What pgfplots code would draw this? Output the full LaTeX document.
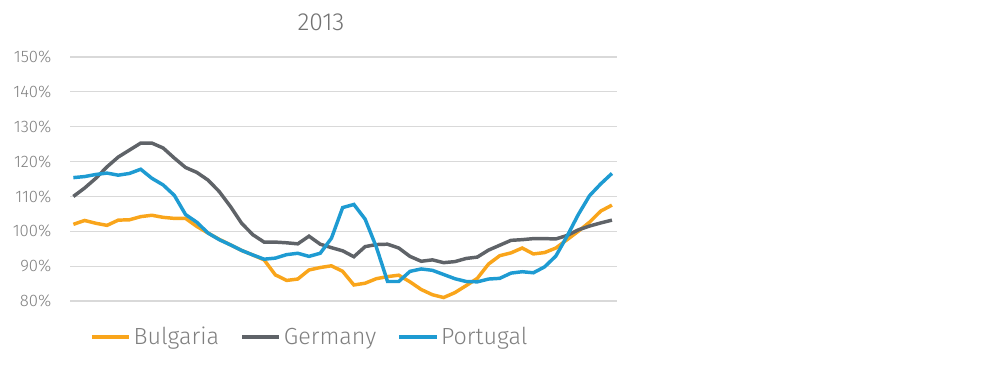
\documentclass[border=0pt]{standalone}
\usepackage{pgfplots}
\pgfplotsset{compat=1.18}
\usepackage{pgfplotstable}
\usepackage{fontspec}
\setmainfont{Fira Sans Light}
\definecolor{bgorange}{RGB}{249,165,27}
\definecolor{degray}{RGB}{95,99,104}
\definecolor{ptblue}{RGB}{30,155,210}
\definecolor{txtgray}{RGB}{127,127,127}
\definecolor{gridgray}{RGB}{217,217,217}
\pgfplotstableread{
i bg de pt
0 102.0 110.0 115.4
1 103.1 112.4 115.7
2 102.3 115.2 116.3
3 101.7 118.5 116.7
4 103.2 121.3 116.1
5 103.3 123.3 116.6
6 104.2 125.3 117.8
7 104.6 125.3 115.2
8 104.0 123.9 113.3
9 103.7 121.0 110.3
10 103.7 118.3 104.8
11 101.4 116.9 102.6
12 99.5 114.7 99.5
13 97.7 111.4 97.6
14 96.1 107.1 96.1
15 94.5 102.3 94.5
16 93.2 99.0 93.2
17 91.8 96.9 92.0
18 87.5 96.9 92.3
19 85.9 96.7 93.3
20 86.3 96.4 93.7
21 88.9 98.6 92.8
22 89.6 96.3 93.7
23 90.1 95.3 98.0
24 88.5 94.4 106.8
25 84.6 92.7 107.7
26 85.1 95.6 103.5
27 86.4 96.2 95.5
28 87.0 96.3 85.6
29 87.4 95.2 85.6
30 85.5 92.8 88.5
31 83.3 91.4 89.2
32 81.8 91.8 88.8
33 81.0 91.0 87.6
34 82.4 91.3 86.4
35 84.4 92.2 85.6
36 86.5 92.6 85.5
37 90.6 94.6 86.3
38 93.0 96.0 86.5
39 93.8 97.4 88.0
40 95.2 97.6 88.4
41 93.5 97.9 88.1
42 93.9 97.9 89.8
43 95.2 97.8 92.9
44 97.6 98.8 98.6
45 100.0 100.4 104.8
46 102.6 101.5 110.2
47 105.8 102.4 113.6
48 107.5 103.2 116.6
}\data
\begin{document}
\begin{tikzpicture}
\path[use as bounding box] (0pt,0pt) rectangle (750pt,292.5pt);
\begin{axis}[
  at={(52.5pt,66.75pt)}, anchor=south west,
  scale only axis,
  width=410.25pt, height=183pt,
  xmin=-0.3, xmax=48.45,
  ymin=80, ymax=150,
  ytick={80,90,...,150},
  xtick=\empty,
  ymajorgrids,
  grid style={gridgray, line width=0.9pt},
  axis line style={draw=none},
  tick style={draw=none},
  /pgf/number format/assume math mode=true,
  yticklabel={\pgfmathprintnumber{\tick}\%},
  yticklabel style={font=\fontsize{12.5}{14}\selectfont, text=txtgray, anchor=east, xshift=-10.5pt},
  legend columns=3,
  legend style={at={(0.439,-0.148)}, anchor=center, draw=none, fill=none,
    font=\fontsize{17.5}{20}\selectfont, text=txtgray,
    /tikz/every even column/.append style={column sep=14pt}},
  legend image code/.code={\draw[#1, line width=2.6pt] (0pt,0pt) -- (28pt,0pt);},
  legend cell align=left,
]
\addplot[bgorange, line width=2.6pt] table[x=i, y=bg] {\data};
\addlegendentry{Bulgaria}
\addplot[degray, line width=2.6pt] table[x=i, y=de] {\data};
\addlegendentry{Germany}
\addplot[ptblue, line width=2.6pt] table[x=i, y=pt] {\data};
\addlegendentry{Portugal}
\end{axis}
\node[text=txtgray!90!black, font=\fontsize{18.5}{21}\selectfont] at (240.75pt,276pt) {2013};
\end{tikzpicture}
\end{document}
